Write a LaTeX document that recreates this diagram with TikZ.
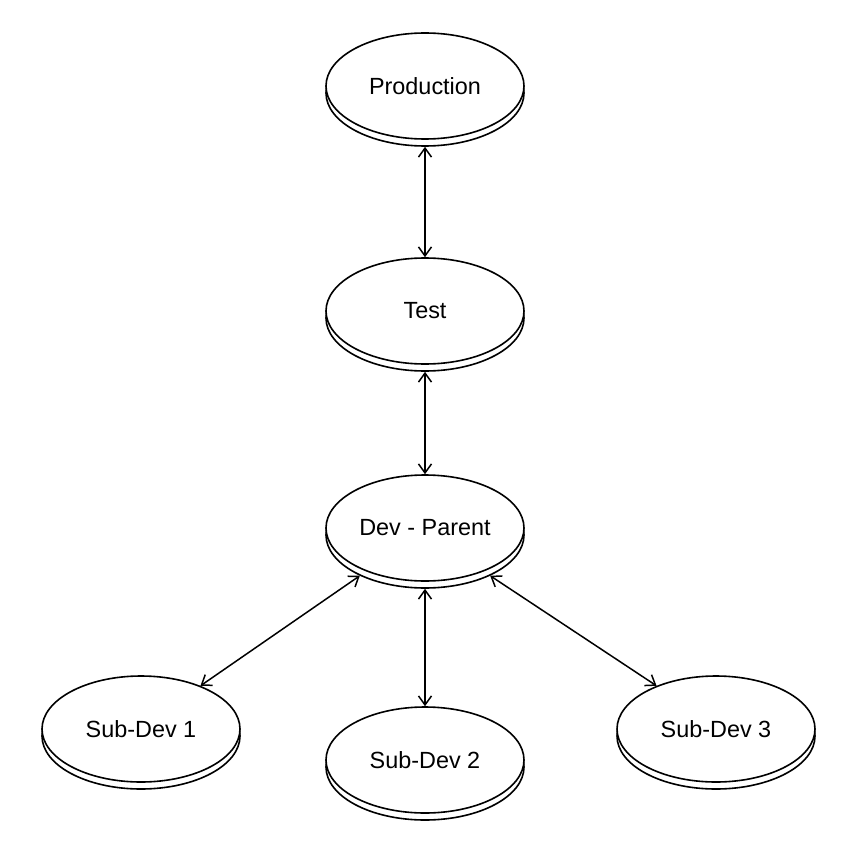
\documentclass[tikz,border=0pt]{standalone}
\usepackage{fontspec}
\setmainfont{Liberation Sans}
\usetikzlibrary{arrows.meta,shadows,shapes.geometric}
\tikzset{
  disc/.style={ellipse, draw=black, line width=1.6pt, fill=white,
    minimum width=198pt, minimum height=106pt, inner sep=0pt,
    font=\fontsize{23.4}{28}\selectfont,
    copy shadow={shadow xshift=0pt, shadow yshift=-7pt, draw=black, fill=white, line width=1.6pt}},
  link/.style={line width=1.5pt, {Straight Barb[length=9pt,width=13pt,line width=1.5pt]}-{Straight Barb[length=9pt,width=13pt,line width=1.5pt]}}
}
\begin{document}
\begin{tikzpicture}[x=1pt,y=-1pt]
\useasboundingbox[fill=white] (0,0) rectangle (856,864);
\node[disc] (prod) at (425,86) {Production};
\node[disc] (test) at (425,311) {Test};
\node[disc] (dev) at (425,528) {Dev - Parent};
\node[disc] (sub1) at (141,729) {Sub-Dev 1};
\node[disc] (sub2) at (425,760) {Sub-Dev 2};
\node[disc] (sub3) at (716,729) {Sub-Dev 3};
\draw[link] ([yshift=-7pt]prod.south) -- (test.north);
\draw[link] ([yshift=-7pt]test.south) -- (dev.north);
\draw[link] ([yshift=-7pt]dev.212) -- (sub1.36);
\draw[link] ([yshift=-7pt]dev.south) -- (sub2.north);
\draw[link] ([yshift=-7pt]dev.328) -- (sub3.144);
\end{tikzpicture}
\end{document}
